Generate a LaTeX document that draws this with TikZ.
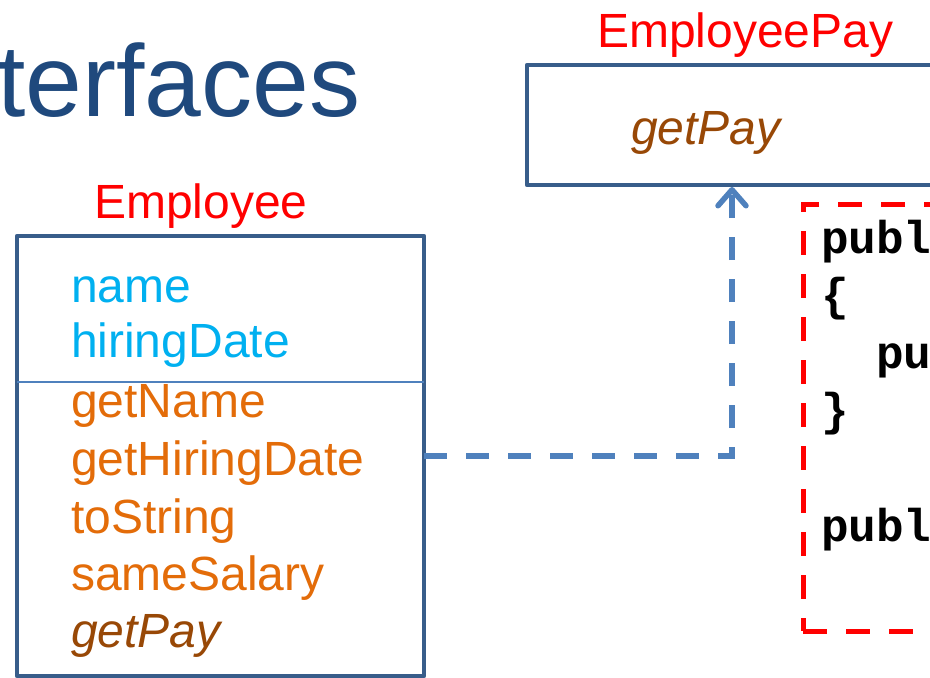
\documentclass[tikz,border=0pt]{standalone}
\usepackage{fontspec}
\setmainfont{Liberation Sans}
\newfontfamily\codefont{Liberation Mono}
\usetikzlibrary{arrows.meta}
\definecolor{titleblue}{HTML}{1F497D}
\definecolor{boxblue}{HTML}{385D8A}
\definecolor{linkblue}{HTML}{4F81BD}
\definecolor{attrcyan}{HTML}{00B0F0}
\definecolor{methorange}{HTML}{E36C09}
\definecolor{abstractbrown}{HTML}{984806}
\definecolor{labelred}{HTML}{FF0000}
\begin{document}
\begin{tikzpicture}[x=1pt,y=-1pt,
  txt/.style={anchor=base west, inner sep=0pt, outer sep=0pt, font=\fontsize{48}{52}\selectfont},
  attr/.style={txt, text=attrcyan},
  meth/.style={txt, text=methorange},
  absmeth/.style={txt, text=abstractbrown, font=\fontsize{48}{52}\selectfont\itshape},
  classlabel/.style={txt, text=labelred},
  codeline/.style={anchor=base west, inner sep=0pt, outer sep=0pt, font=\fontsize{46}{50}\selectfont\codefont\bfseries},
  umlbox/.style={draw=boxblue, line width=4.5pt, line join=round, anchor=north west, inner sep=0pt, outer sep=0pt},
  dep/.style={draw=linkblue, line width=5.5pt, dash pattern=on 23pt off 19pt, -{Straight Barb[length=16pt, width=28pt, round]}, shorten >=2pt},
  codebox/.style={draw=labelred, line width=5pt, dash pattern=on 24pt off 19pt, anchor=north west, inner sep=0pt, outer sep=0pt}
]
\useasboundingbox (0,0) rectangle (930,678);
\clip (0,0) rectangle (930,678);

% title
\node[anchor=base west, inner sep=0pt, text=titleblue, font=\fontsize{102}{108}\selectfont] (title) at (-3,116) {terfaces};

% EmployeePay interface
\node[classlabel] (paylabel) at (597,47) {EmployeePay};
\node[umlbox, minimum width=410pt, minimum height=120pt] (pay) at (527,65) {};
\node[absmeth] (paygetpay) at (631,144) {getPay};

% Employee class
\node[classlabel] (emplabel) at (94,218) {Employee};
\node[umlbox, minimum width=407pt, minimum height=440pt] (emp) at (17,236) {};
\coordinate (divy) at (0,382);
\draw[draw=linkblue, line width=1.5pt] (emp.west |- divy) -- (emp.east |- divy);

\node[attr] (aname) at (71,302) {name};
\node[attr] (ahire) at (71,357) {hiringDate};
\node[meth] (mname) at (71,417) {getName};
\node[meth] (mhire) at (71,475) {getHiringDate};
\node[meth] (mstr) at (71,533) {toString};
\node[meth] (msal) at (71,590) {sameSalary};
\node[absmeth] (mpay) at (71,647) {getPay};

% dependency arrow
\draw[dep] (emp.east) -| (pay.south);

% code box
\node[codebox, minimum width=160pt, minimum height=427pt] (code) at (803,204) {};
\node[codeline] (c1) at (821,253) {publ};
\node[codeline] (c2) at (821,310.6) {\{};
\node[codeline] (c3) at (876.2,368) {pu};
\node[codeline] (c4) at (821,425.8) {\}};
\node[codeline] (c5) at (821,541) {publ};
\end{tikzpicture}
\end{document}
